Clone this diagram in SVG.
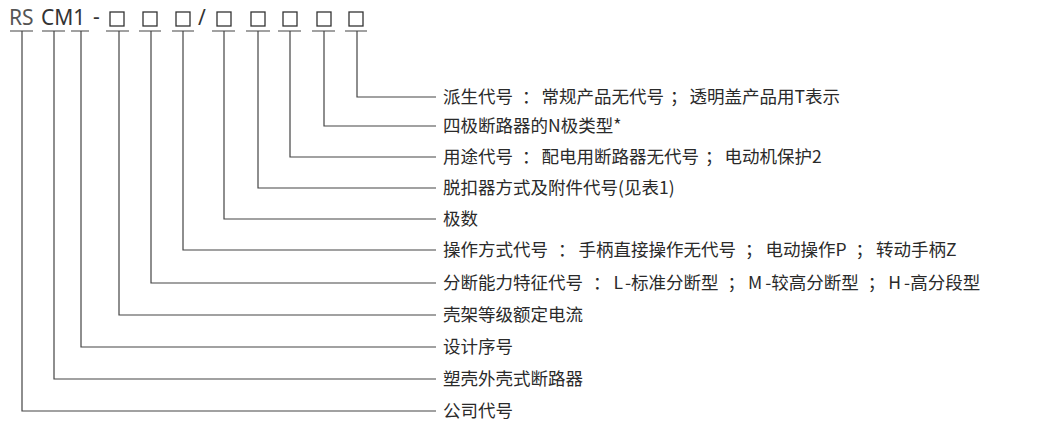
<svg xmlns="http://www.w3.org/2000/svg" width="1058" height="429" viewBox="0 0 1058 429">
<style>
.t{font-family:"Noto Sans CJK SC","Noto Sans",sans-serif;font-size:17.5px;fill:#2a2a2a}
.h{font-family:"Noto Sans","Liberation Sans",sans-serif;font-size:21px;fill:#333}
.b{fill:none;stroke:#333;stroke-width:1.3}
.l{fill:none;stroke:#444;stroke-width:1.2}
</style>
<rect width="1058" height="429" fill="#fff"/>
<g id="code">
<text class="h" x="9" y="25" style="fill:#555">RS</text>
<text class="h" x="41" y="25">CM1</text>
<text class="h" x="93" y="24">-</text>
<text class="h" x="198" y="25">/</text>
<rect class="b" x="110" y="12" width="14" height="14"/>
<rect class="b" x="143" y="12" width="14" height="14"/>
<rect class="b" x="176" y="12" width="14" height="14"/>
<rect class="b" x="217" y="12" width="14" height="14"/>
<rect class="b" x="251" y="12" width="14" height="14"/>
<rect class="b" x="283" y="12" width="14" height="14"/>
<rect class="b" x="317" y="12" width="14" height="14"/>
<rect class="b" x="349" y="12" width="14" height="14"/>
</g>
<g id="connectors" class="l">
<path d="M10 31H33M42 31H65M71 31H89M106 31H129M139 31H161M172 31H194M212 31H235M246 31H270M278 31H301M312 31H335M345 31H367"/>
<path d="M357 31V97H436"/>
<path d="M324 31V126H436"/>
<path d="M290 31V157H436"/>
<path d="M258 31V188H436"/>
<path d="M224 31V219H436"/>
<path d="M183 31V250H436"/>
<path d="M151 31V283H436"/>
<path d="M119 31V315H436"/>
<path d="M81 31V347H436"/>
<path d="M54 31V379H436"/>
<path d="M22 31V411H436"/>
</g>
<g id="labels">
<text class="t" x="443" y="103">派生代号<tspan dx="9">：</tspan><tspan dx="2">常规产品无代号</tspan><tspan dx="6">；</tspan><tspan dx="2">透明盖产品用T表示</tspan></text>
<text class="t" x="443" y="132">四极断路器的N极类型*</text>
<text class="t" x="443" y="163">用途代号<tspan dx="9">：</tspan><tspan dx="2">配电用断路器无代号</tspan><tspan dx="6">；</tspan><tspan dx="2">电动机保护2</tspan></text>
<text class="t" x="443" y="194">脱扣器方式及附件代号(见表1)</text>
<text class="t" x="443" y="225">极数</text>
<text class="t" x="443" y="256">操作方式代号<tspan dx="10">：</tspan><tspan dx="3">手柄直接操作无代号</tspan><tspan dx="9">；</tspan><tspan dx="3">电动操作P</tspan><tspan dx="9">；</tspan><tspan dx="3">转动手柄Z</tspan></text>
<text class="t" x="443" y="289">分断能力特征代号<tspan dx="10">：</tspan><tspan dx="3">L</tspan><tspan dx="3">-标准分断型</tspan><tspan dx="9">；</tspan><tspan dx="3">M</tspan><tspan dx="3">-较高分断型</tspan><tspan dx="9">；</tspan><tspan dx="3">H</tspan><tspan dx="3">-高分段型</tspan></text>
<text class="t" x="443" y="321">壳架等级额定电流</text>
<text class="t" x="443" y="353">设计序号</text>
<text class="t" x="443" y="385">塑壳外壳式断路器</text>
<text class="t" x="443" y="417">公司代号</text>
</g>
</svg>
